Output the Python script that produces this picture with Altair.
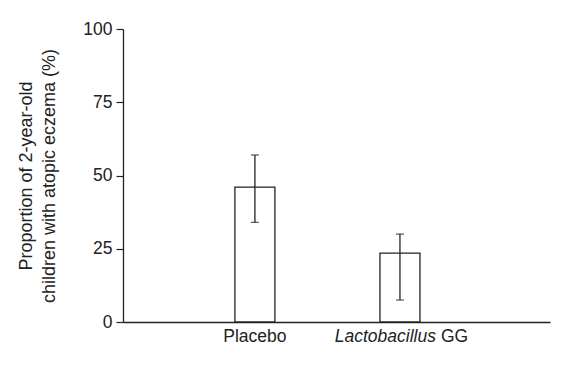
import altair as alt
import pandas as pd

categories = ["Placebo", "Lactobacillus GG"]
group_index = [0, 1]
proportion = [46, 23.5]
ci_low = [34, 7.5]
ci_high = [57, 30]

df = pd.DataFrame({
    "group": categories,
    "idx": group_index,
    "value": proportion,
    "lo": ci_low,
    "hi": ci_high,
})

FONT = "Liberation Sans"
INK = "#222222"

xscale = alt.Scale(domain=[-0.875, 2.0], nice=False, zero=False)
yscale = alt.Scale(domain=[0, 100], nice=False)

base = alt.Chart(df)

bars = base.mark_bar(size=40, fill="white", stroke=INK, strokeWidth=1.3).encode(
    x=alt.X("idx:Q", scale=xscale,
            axis=alt.Axis(title=None, labels=False, ticks=False, grid=False,
                          domainColor=INK, domainWidth=1.3)),
    y=alt.Y("value:Q", scale=yscale,
            axis=alt.Axis(values=[0, 25, 50, 75, 100], grid=False,
                          title=["Proportion of 2-year-old", "children with atopic eczema (%)"],
                          titleFont=FONT, titleFontSize=18, titleFontWeight="normal",
                          titleColor=INK, titleLineHeight=23, titlePadding=24,
                          labelFont=FONT, labelFontSize=17.5, labelColor=INK,
                          labelPadding=4, tickSize=7, tickColor=INK, tickWidth=1.2,
                          domainColor=INK, domainWidth=1.3)),
)

err = base.mark_rule(color=INK, strokeWidth=1.3).encode(
    x="idx:Q", y="lo:Q", y2="hi:Q"
)
cap_lo = base.mark_tick(color=INK, size=8, thickness=1.3, orient="horizontal").encode(
    x="idx:Q", y="lo:Q"
)
cap_hi = base.mark_tick(color=INK, size=8, thickness=1.3, orient="horizontal").encode(
    x="idx:Q", y="hi:Q"
)

lab_placebo = alt.Chart(pd.DataFrame({"idx": [group_index[0]], "y": [0], "t": ["Placebo"]})).mark_text(
    font=FONT, fontSize=17.5, color=INK, align="center", baseline="alphabetic", dy=20
).encode(x="idx:Q", y="y:Q", text="t:N")

lab_lacto = alt.Chart(pd.DataFrame({"idx": [group_index[1]], "y": [0], "t": ["Lactobacillus"]})).mark_text(
    font=FONT, fontSize=17.5, fontStyle="italic", color=INK, align="right",
    baseline="alphabetic", dy=20, dx=36
).encode(x="idx:Q", y="y:Q", text="t:N")

lab_gg = alt.Chart(pd.DataFrame({"idx": [group_index[1]], "y": [0], "t": ["GG"]})).mark_text(
    font=FONT, fontSize=17.5, color=INK, align="left", baseline="alphabetic", dy=20, dx=41
).encode(x="idx:Q", y="y:Q", text="t:N")

chart = alt.layer(bars, err, cap_lo, cap_hi, lab_placebo, lab_lacto, lab_gg).properties(
    width=427, height=293,
    autosize=alt.AutoSizeParams(type="none"),
    padding={"left": 115, "top": 21, "right": 10, "bottom": 50},
    background="white",
).configure_view(stroke=None)

chart.save("out.html", embed_options={"renderer": "svg", "actions": False})
